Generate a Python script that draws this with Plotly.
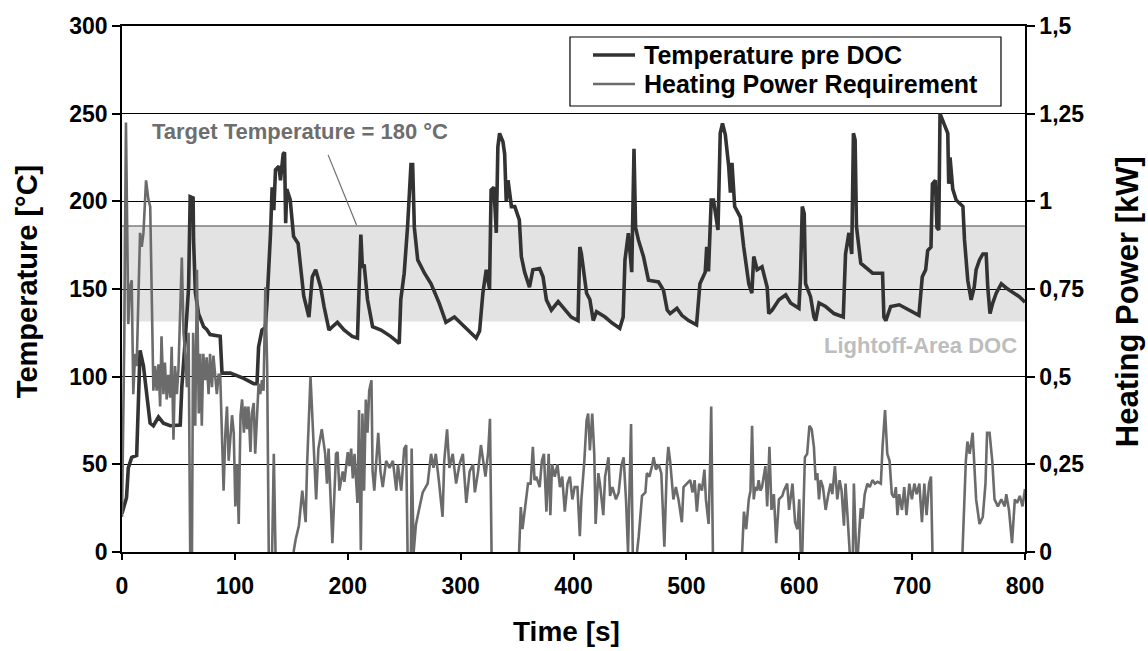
import plotly.graph_objects as go

# ---------------- data ----------------
time_temp = [
    0, 4, 5.6, 8.6, 13, 14.5, 16, 19, 22, 24.9,
    27.8, 32.3, 36.7, 42.7, 51.6, 53, 56, 59, 60.4, 63,
    63.4, 65, 67.8, 72.3, 75, 78, 87, 88.6, 96, 107.8,
    116.7, 119.6, 121, 124, 127, 128.6, 131.6, 133, 134.5, 136,
    139, 140.4, 142.8, 144, 145, 146, 149, 150.5, 152, 156,
    161, 165.6, 168.6, 171.6, 176, 179, 182, 183.4, 186.4, 190.8,
    196.7, 204, 208.6, 210, 211.6, 213, 214.5, 217.5, 222, 229.5,
    238, 245.6, 247, 250, 253, 256, 257.5, 259, 262, 268,
    273.8, 281, 287, 294.5, 303.4, 313.8, 316.8, 319.7, 322.7, 325.6,
    327, 329.5, 331.6, 333, 334.5, 337.5, 339, 340.4, 342, 345,
    348, 352, 353.8, 356.7, 361, 364, 370, 373, 376, 380.4,
    386.4, 392.3, 398, 404, 405.6, 407, 411.6, 414.5, 417.5, 420.4,
    428, 434, 441, 444, 445.6, 448.6, 451.6, 453.6, 455, 457.5,
    462, 466.4, 475.3, 479.7, 483, 485.6, 491.6, 496, 502, 509,
    512, 516.7, 518, 519.6, 522, 524, 525.6, 528, 530, 532,
    534.5, 537.5, 539, 540.4, 542.8, 547.8, 550.8, 553.8, 555.3, 558,
    559.7, 562.7, 567, 571.6, 573, 576, 582, 588, 592.3, 599.7,
    601, 602.7, 604.4, 605.6, 610, 613, 614.5, 617.5, 623.4, 630.8,
    639, 641, 644, 646.5, 648, 649.5, 650.7, 654.5, 659, 665,
    673.8, 675, 676.7, 681, 688.6, 697.5, 706, 709, 712, 713.8,
    716.7, 718, 720.6, 722, 723.6, 724.7, 727.4, 731.6, 732.4, 733.6,
    736, 739, 745, 746.4, 749.3, 752.3, 755, 756.7, 759.7, 762.7,
    765.6, 767, 769, 771.4, 774.5, 779, 783.4, 795, 800,
]
temperature = [
    22, 31, 48, 54, 55, 86, 115, 106, 87, 73.5,
    72, 77, 73.5, 72, 72.4, 94, 121, 151, 202.7, 202,
    178, 148, 136, 128.5, 127, 124, 123, 102, 102, 99,
    96, 96, 117, 126.6, 128, 144, 182, 208, 195, 218,
    220, 212, 227, 228, 187.5, 207, 201, 190, 180, 176,
    146, 134, 157, 161, 151, 140, 132, 126.6, 128.5, 131,
    126.6, 123, 122, 144, 181, 162, 164, 144, 128.5, 126.6,
    123, 119, 144, 159, 185.6, 221, 221, 185, 166.6, 159,
    153, 142, 131, 134, 128.5, 122, 126, 147.6, 161, 150,
    206.5, 208, 182, 231, 238.8, 234, 227, 200, 212, 197,
    197, 189.4, 168.5, 159.6, 151, 161, 161.7, 157, 143.8, 138,
    142.8, 138, 134, 132, 174, 170, 147.6, 144, 132, 137,
    134, 130.7, 127.6, 134, 166.6, 181.8, 159.6, 230, 185, 178,
    168.5, 155, 154, 149.4, 138, 136, 139, 135, 132, 129.5,
    153, 159.6, 174, 160, 200.8, 200.8, 195, 183.7, 238.8, 244.5,
    238, 220, 205, 222, 197, 191, 174, 159, 153, 147.6,
    168.5, 161, 162.7, 151, 136, 138, 143.8, 146.6, 142, 139,
    155, 197, 193, 153, 145.6, 134, 132, 142, 140, 136,
    134, 170, 182, 170, 238.8, 235, 185.6, 164.7, 162, 159,
    159, 134, 132, 140, 141, 138, 135, 157, 161, 172,
    174, 210, 212, 185, 183.7, 250, 246, 238.8, 210, 225,
    207, 200.8, 197, 178, 155, 143.8, 151, 161, 166.6, 170,
    170, 151, 136, 142, 147.6, 153, 150.6, 145.6, 142.5,
]

time_power = [
    0, 2, 3.5, 5.6, 7, 8.6, 10, 11.6, 13, 16,
    17.5, 19, 21.3, 23.4, 25, 26.4, 27.8, 29.3, 30.7, 32.3,
    33.8, 35, 36.7, 38, 39.6, 41, 42.7, 44, 45.6, 47,
    48.6, 50, 51.6, 53, 54.5, 56, 57.5, 59, 60.4, 62,
    63, 64.9, 66.4, 68, 69.3, 70.7, 72, 73.8, 75, 76.7,
    78, 79.7, 81, 84, 85.6, 87, 90, 91.6, 93, 94.5,
    96, 97.5, 99, 100.4, 102, 103.4, 105, 106.4, 108, 109.3,
    110.8, 112, 113.8, 115, 116.7, 118, 119.6, 121, 122.5, 124,
    125.4, 127, 128.6, 130, 133, 134.5, 136, 152, 153.8, 156.7,
    159.7, 162.7, 164, 167, 170, 172, 174, 177, 180, 181.6,
    183, 186.4, 189.6, 191, 192.6, 195.5, 197, 200, 201.5, 203,
    204.5, 206, 208.6, 210, 211.6, 213, 214.5, 216, 217.5, 219,
    221, 222, 223.5, 225, 227, 229, 231, 234, 237, 240,
    243, 244.4, 247.4, 250, 251.8, 253, 256, 256.6, 258.4, 260.4,
    263.4, 266.4, 270.8, 273.8, 276, 278, 281, 284, 285.5, 288,
    290, 293, 296, 299, 302, 305, 308, 311, 312.6, 315.5,
    318, 320, 322, 324.4, 326, 327.4, 351.8, 353.3, 354.8, 357.7,
    359.7, 362, 364, 365.5, 367, 370, 372, 373.8, 376, 378,
    379.5, 381, 383.4, 385.8, 388, 390, 392.3, 394.7, 396.8, 399,
    401, 403.5, 405.6, 407, 409.6, 411.6, 413, 414.5, 416.6, 418.4,
    419.6, 422, 423.4, 426.4, 428, 431, 432.4, 434.5, 437.6, 440,
    442.4, 444.4, 446.5, 448.3, 451, 452.5, 456.3, 457.8, 460.7, 463.7,
    465, 467.3, 469.6, 471, 473, 475.4, 477.8, 479, 480.5, 482.7,
    484, 485.6, 488.5, 490.7, 493, 496, 497.5, 500.4, 503.4, 505.5,
    507.3, 509.3, 511.4, 513.8, 516, 517.3, 519.7, 521, 522, 523.5,
    549.4, 551, 553, 555.3, 556.8, 558.2, 559.7, 561, 562.7, 564,
    565.6, 567, 570, 571.6, 573.6, 575.4, 577.5, 579.6, 582, 585,
    586.4, 589.3, 591, 594, 596.3, 598.4, 600, 601.3, 602.7, 605,
    607, 609, 611, 613, 614.5, 616, 617.5, 619, 621, 623.4,
    625.8, 627.8, 629.3, 631.6, 633.7, 635.8, 637.5, 639.6, 641, 642.5,
    644.7, 647.5, 648.4, 650.4, 652, 654.5, 656, 658, 660.4, 662.5,
    664.8, 667, 669.4, 672.3, 673.8, 676, 678, 680, 682, 684,
    685.6, 687, 688.6, 691, 693, 695, 697.5, 699.8, 702, 704,
    706.4, 708.7, 710.8, 712.8, 715, 716.7, 718, 744.6, 747.6, 749,
    751, 753.6, 755, 756.7, 759.7, 762.6, 765, 766.4, 768.6, 771,
    773, 776, 779, 782, 783.4, 785.8, 788.5, 791, 793, 795.4,
    797.8, 800,
]
heating_power_kw = [
    0.10, 0.60, 1.225, 0.65, 0.755, 0.775, 0.45, 0.565, 0.53, 0.91,
    0.87, 0.91, 1.06, 1.005, 0.985, 0.67, 0.46, 0.53, 0.46, 0.535,
    0.415, 0.615, 0.45, 0.54, 0.435, 0.505, 0.44, 0.585, 0.32, 0.53,
    0.45, 0.52, 0.67, 0.84, 0.625, 0.565, 0.47, 0.625, 0, 0,
    0.625, 0.36, 0.805, 0.395, 0.565, 0.36, 0.565, 0.49, 0.555, 0.45,
    0.565, 0.47, 0.56, 0.45, 0.505, 0.505, 0.175, 0.34, 0.415, 0.26,
    0.34, 0.39, 0.34, 0.13, 0.25, 0.08, 0.39, 0.435, 0.34, 0.415,
    0.35, 0.415, 0.285, 0.395, 0.425, 0.28, 0.385, 0.48, 0.45, 0.49,
    0.46, 0.755, 0.53, 0, 0, 0.28, 0, 0, 0.035, 0.075,
    0.175, 0.085, 0.25, 0.5, 0.26, 0.15, 0.295, 0.35, 0.28, 0.195,
    0.295, 0.025, 0.28, 0.285, 0.175, 0.23, 0.2, 0.285, 0.245, 0.295,
    0.21, 0.28, 0.14, 0.405, 0.005, 0.395, 0.175, 0.435, 0.34, 0.46,
    0.49, 0.23, 0.175, 0.26, 0.34, 0.23, 0.185, 0.26, 0.24, 0.26,
    0.175, 0.25, 0.175, 0.295, 0.305, 0, 0, 0.295, 0, 0.078,
    0.125, 0.17, 0.195, 0.28, 0.24, 0.28, 0.195, 0.1, 0.26, 0.35,
    0.24, 0.28, 0.195, 0.25, 0.28, 0.14, 0.23, 0.25, 0.17, 0.23,
    0.305, 0.26, 0.215, 0.285, 0.38, 0, 0, 0.128, 0.065, 0.15,
    0.195, 0.195, 0.3, 0.205, 0.215, 0.185, 0.26, 0.28, 0.115, 0.28,
    0.105, 0.25, 0.215, 0.25, 0.185, 0.215, 0.115, 0.195, 0.215, 0.15,
    0.185, 0.185, 0.045, 0.15, 0.26, 0.375, 0.395, 0.29, 0.395, 0.28,
    0.08, 0.225, 0.195, 0.105, 0.215, 0.27, 0.16, 0.185, 0.15, 0.17,
    0.245, 0.27, 0.15, 0, 0.365, 0, 0, 0.045, 0.16, 0.17,
    0.225, 0.215, 0.245, 0.27, 0.235, 0.25, 0.225, 0.13, 0.015, 0.245,
    0.3, 0.26, 0.15, 0.185, 0.15, 0.085, 0.185, 0.195, 0.205, 0.17,
    0.205, 0.115, 0.195, 0.175, 0.235, 0.15, 0.08, 0.245, 0.415, 0,
    0, 0.115, 0.065, 0.15, 0.175, 0.36, 0.15, 0.185, 0.175, 0.205,
    0.175, 0.185, 0.245, 0.13, 0.3, 0.12, 0.165, 0.025, 0.15, 0.16,
    0.175, 0.195, 0.12, 0.195, 0.085, 0.065, 0.15, 0, 0, 0.27,
    0.28, 0.36, 0.35, 0.3, 0.205, 0.225, 0.15, 0.205, 0.185, 0.12,
    0.165, 0.195, 0.165, 0.245, 0.15, 0.205, 0.175, 0.075, 0.195, 0.11,
    0, 0, 0.195, 0, 0, 0.125, 0.095, 0.165, 0.195, 0.185,
    0.205, 0.195, 0.2, 0.195, 0.3, 0.405, 0.28, 0.26, 0.165, 0.155,
    0.185, 0.105, 0.165, 0.12, 0.185, 0.105, 0.195, 0.15, 0.195, 0.165,
    0.195, 0.085, 0.195, 0.105, 0.195, 0.215, 0, 0, 0.26, 0.315,
    0.28, 0.34, 0.26, 0.15, 0.08, 0.1, 0.195, 0.34, 0.34, 0.26,
    0.15, 0.13, 0.15, 0.13, 0.165, 0.12, 0.025, 0.15, 0.14, 0.16,
    0.13, 0.18,
]

x_ticks = [0, 100, 200, 300, 400, 500, 600, 700, 800]
temp_ticks = [0, 50, 100, 150, 200, 250, 300]
power_ticks = [0, 0.25, 0.5, 0.75, 1.0, 1.25, 1.5]
power_tick_labels = ["0", "0,25", "0,5", "0,75", "1", "1,25", "1,5"]

series_names = ["Temperature pre DOC", "Heating Power Requirement"]
series_colors = ["#333333", "#6b6b6b"]
series_widths = [3.6, 2.6]

lightoff_area = [131.5, 186]          # °C band
target_pointer = ([182.6, 207.8], [226.5, 186.5])

# Heater-off stretches (power = 0) lie on the axis and are not visible in the
# reference: break the line between consecutive zero readings.
plot_t, plot_p = [], []
for i, (t, p) in enumerate(zip(time_power, heating_power_kw)):
    if i > 0 and p == 0 and heating_power_kw[i - 1] == 0:
        plot_t.append(None)
        plot_p.append(None)
    plot_t.append(t)
    plot_p.append(p)

# ---------------- figure ----------------
FONT = "Liberation Sans, Arial, sans-serif"

fig = go.Figure()
fig.add_trace(go.Scatter(
    x=time_temp, y=temperature, mode="lines", name=series_names[0],
    line=dict(color=series_colors[0], width=series_widths[0]), yaxis="y",
    showlegend=False,
))
fig.add_trace(go.Scatter(
    x=plot_t, y=plot_p, mode="lines", name=series_names[1],
    line=dict(color=series_colors[1], width=series_widths[1]), yaxis="y2",
    connectgaps=False, showlegend=False,
))

# light-off band
fig.add_shape(type="rect", xref="x", yref="y", x0=0, x1=800,
              y0=lightoff_area[0], y1=lightoff_area[1],
              fillcolor="#e3e3e3", line=dict(width=0), layer="below")
fig.add_shape(type="line", xref="x", yref="y", x0=0, x1=800,
              y0=lightoff_area[1], y1=lightoff_area[1],
              line=dict(color="#7c7c7c", width=1.5), layer="below")
fig.add_shape(type="line", xref="x", yref="y",
              x0=target_pointer[0][0], x1=target_pointer[0][1],
              y0=target_pointer[1][0], y1=target_pointer[1][1],
              line=dict(color="#6e6e6e", width=1.2))

fig.add_annotation(x=24.6, y=240, xref="x", yref="y", xanchor="left", yanchor="middle",
                   text="Target Temperature = 180 °C", showarrow=False,
                   font=dict(family=FONT, size=22, color="#6e6e6e", weight="bold"))
fig.add_annotation(x=795, y=118, xref="x", yref="y", xanchor="right", yanchor="middle",
                   text="Lightoff-Area DOC", showarrow=False,
                   font=dict(family=FONT, size=22, color="#bdbdbd", weight="bold"))

# legend box (drawn to match the reference layout)
fig.add_shape(type="rect", xref="paper", yref="paper",
              x0=0.4961, x1=0.9734, y0=0.8479, y1=0.9791,
              fillcolor="white", line=dict(color="black", width=1.2))
legend_y = [0.9449, 0.8897]
for name, color, width, ly in zip(series_names, series_colors, series_widths, legend_y):
    fig.add_shape(type="line", xref="paper", yref="paper",
                  x0=0.5216, x1=0.5681, y0=ly, y1=ly,
                  line=dict(color=color, width=width))
    fig.add_annotation(x=0.5759, y=ly, xref="paper", yref="paper",
                       xanchor="left", yanchor="middle", text=name, showarrow=False,
                       font=dict(family=FONT, size=25, color="black", weight="bold"))

# axis titles (placed as in the reference)
fig.add_annotation(x=-0.1052, y=0.513, xref="paper", yref="paper",
                   xanchor="center", yanchor="middle", textangle=-90,
                   text="Temperature [°C]", showarrow=False,
                   font=dict(family=FONT, size=29, color="black", weight="bold"))
fig.add_annotation(x=1.113, y=0.475, xref="paper", yref="paper",
                   xanchor="center", yanchor="middle", textangle=-90,
                   text="Heating Power [kW]", showarrow=False,
                   font=dict(family=FONT, size=31, color="black", weight="bold"))
fig.add_annotation(x=0.4928, y=-0.152, xref="paper", yref="paper",
                   xanchor="center", yanchor="middle",
                   text="Time [s]", showarrow=False,
                   font=dict(family=FONT, size=28, color="black", weight="bold"))

tickfont = dict(family=FONT, size=23, color="black", weight="bold")

fig.update_layout(
    width=1148, height=651,
    margin=dict(l=122, r=123, t=26, b=99, autoexpand=False),
    paper_bgcolor="white", plot_bgcolor="white",
    showlegend=False,
    xaxis=dict(range=[0, 800], tickvals=x_ticks, ticks="outside", ticklen=6,
               tickwidth=1.5, tickcolor="black", showline=True, linecolor="black",
               linewidth=1.8, mirror=True, showgrid=False, zeroline=False,
               tickfont=tickfont, automargin=False, ticklabelstandoff=6),
    yaxis=dict(range=[0, 300], tickvals=temp_ticks, ticks="outside", ticklen=8,
               tickwidth=1.5, tickcolor="black", showline=True, linecolor="black",
               linewidth=1.5, showgrid=True, gridcolor="black", gridwidth=1,
               zeroline=False, tickfont=tickfont, automargin=False),
    yaxis2=dict(range=[0, 1.5], tickvals=power_ticks, ticktext=power_tick_labels,
                overlaying="y", side="right", ticks="outside", ticklen=8,
                tickwidth=1.5, tickcolor="black", showline=True, linecolor="black",
                linewidth=1.5, showgrid=False, zeroline=False, tickfont=tickfont,
                automargin=False),
)

fig.write_html("out.html")
